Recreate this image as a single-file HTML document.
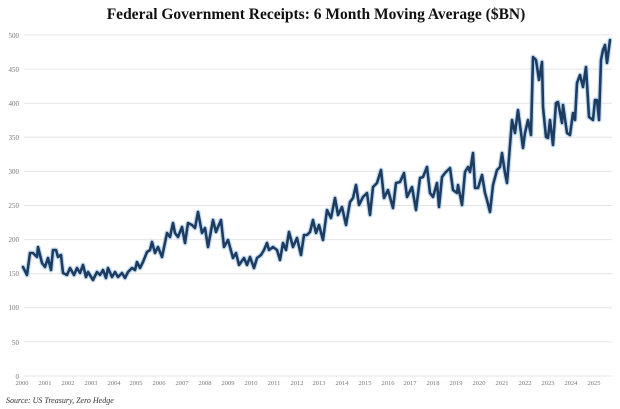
<!DOCTYPE html>
<html><head><meta charset="utf-8"><style>
html,body{margin:0;padding:0;background:#fff;}
svg{display:block;}
</style></head><body>
<svg width="620" height="409" viewBox="0 0 620 409" xmlns="http://www.w3.org/2000/svg">
<rect width="620" height="409" fill="#fff"/>
<text x="316" y="19" text-anchor="middle" font-family="Liberation Serif, serif" font-weight="bold" font-size="15.5" fill="#111">Federal Government Receipts: 6 Month Moving Average ($BN)</text>
<g stroke="#e4e4e4" stroke-width="1">
<line x1="24" x2="612" y1="35" y2="35"/><line x1="24" x2="612" y1="69.1" y2="69.1"/>
<line x1="24" x2="612" y1="103.2" y2="103.2"/><line x1="24" x2="612" y1="137.3" y2="137.3"/>
<line x1="24" x2="612" y1="171.4" y2="171.4"/><line x1="24" x2="612" y1="205.5" y2="205.5"/>
<line x1="24" x2="612" y1="239.6" y2="239.6"/><line x1="24" x2="612" y1="273.7" y2="273.7"/>
<line x1="24" x2="612" y1="307.8" y2="307.8"/><line x1="24" x2="612" y1="341.9" y2="341.9"/>
<line x1="24" x2="612" y1="376" y2="376"/>
</g>
<g font-family="Liberation Serif, serif" font-size="7" fill="#777" text-anchor="end">
<text x="19" y="38">500</text><text x="19" y="72">450</text><text x="19" y="106">400</text>
<text x="19" y="140">350</text><text x="19" y="174">300</text><text x="19" y="208">250</text>
<text x="19" y="242">200</text><text x="19" y="276">150</text><text x="19" y="310">100</text>
<text x="19" y="345">50</text><text x="19" y="379">0</text>
</g>
<g font-family="Liberation Serif, serif" font-size="6.5" fill="#777" text-anchor="middle">
<text x="22" y="385">2000</text><text x="45" y="385">2001</text><text x="68" y="385">2002</text><text x="91" y="385">2003</text><text x="114" y="385">2004</text><text x="136" y="385">2005</text><text x="159" y="385">2006</text><text x="182" y="385">2007</text><text x="205" y="385">2008</text><text x="228" y="385">2009</text><text x="251" y="385">2010</text><text x="274" y="385">2011</text><text x="297" y="385">2012</text><text x="319" y="385">2013</text><text x="342" y="385">2014</text><text x="365" y="385">2015</text><text x="388" y="385">2016</text><text x="410" y="385">2017</text><text x="433" y="385">2018</text><text x="456" y="385">2019</text><text x="479" y="385">2020</text><text x="502" y="385">2021</text><text x="525" y="385">2022</text><text x="548" y="385">2023</text><text x="571" y="385">2024</text><text x="594" y="385">2025</text>
</g>
<text x="6" y="403" font-family="Liberation Serif, serif" font-style="italic" font-size="8" fill="#333">Source: US Treasury, Zero Hedge</text>
<g fill="none" stroke-linejoin="round" stroke-linecap="round">
<polyline id="p" stroke="#9fc3e4" stroke-width="5" opacity="0.6" points="23,267 27,275 30,253 33,253 37,257 38,247 42,263 45,267 48,258 51,270 53,250 56,250 58,257 61,255 63,273 67,275 70,268 74,275 77,268 80,273 83,265 86,277 88,272 93,280 97,272 100,275 103,270 106,278 108,268 112,277 115,272 118,277 122,273 125,278 128,272 132,268 135,270 137,262 140,268 143,262 147,252 150,250 152,242 155,253 158,247 162,257 167,233 170,237 173,223 175,233 178,237 182,227 185,243 188,223 192,225 195,228 198,212 202,233 205,228 208,247 213,220 216,232 218,227 221,220 224,247 228,240 233,258 236,253 239,265 244,258 247,265 250,257 254,268 257,258 261,255 264,250 267,243 269,250 273,247 277,250 280,260 283,243 286,250 289,232 293,247 297,238 301,255 304,235 307,235 310,232 313,220 316,233 319,225 323,240 327,210 331,218 335,198 338,215 342,207 346,225 350,202 353,198 356,185 359,205 363,197 367,193 370,215 373,187 377,183 381,170 384,198 388,190 393,208 396,183 400,182 404,173 407,197 412,187 416,210 420,178 423,177 427,167 430,193 433,197 437,183 439,207 442,177 445,173 450,168 453,190 457,193 458,185 462,205 465,172 468,167 470,172 473,153 475,188 478,188 482,175 485,193 487,200 490,212 493,185 497,170 500,167 502,153 505,173 507,183 512,120 515,133 518,110 523,148 525,133 528,120 531,135 533,57 536,60 539,80 542,62 543,107 546,137 548,138 550,120 553,145 556,103 558,102 562,123 563,105 567,133 570,135 573,113 575,120 577,83 580,75 583,87 586,67 589,117 593,120 595,100 597,100 599,120 601,60 603,50 605,45 607,63 610,40"/>
<polyline stroke="#1d3c62" stroke-width="2.6" points="23,267 27,275 30,253 33,253 37,257 38,247 42,263 45,267 48,258 51,270 53,250 56,250 58,257 61,255 63,273 67,275 70,268 74,275 77,268 80,273 83,265 86,277 88,272 93,280 97,272 100,275 103,270 106,278 108,268 112,277 115,272 118,277 122,273 125,278 128,272 132,268 135,270 137,262 140,268 143,262 147,252 150,250 152,242 155,253 158,247 162,257 167,233 170,237 173,223 175,233 178,237 182,227 185,243 188,223 192,225 195,228 198,212 202,233 205,228 208,247 213,220 216,232 218,227 221,220 224,247 228,240 233,258 236,253 239,265 244,258 247,265 250,257 254,268 257,258 261,255 264,250 267,243 269,250 273,247 277,250 280,260 283,243 286,250 289,232 293,247 297,238 301,255 304,235 307,235 310,232 313,220 316,233 319,225 323,240 327,210 331,218 335,198 338,215 342,207 346,225 350,202 353,198 356,185 359,205 363,197 367,193 370,215 373,187 377,183 381,170 384,198 388,190 393,208 396,183 400,182 404,173 407,197 412,187 416,210 420,178 423,177 427,167 430,193 433,197 437,183 439,207 442,177 445,173 450,168 453,190 457,193 458,185 462,205 465,172 468,167 470,172 473,153 475,188 478,188 482,175 485,193 487,200 490,212 493,185 497,170 500,167 502,153 505,173 507,183 512,120 515,133 518,110 523,148 525,133 528,120 531,135 533,57 536,60 539,80 542,62 543,107 546,137 548,138 550,120 553,145 556,103 558,102 562,123 563,105 567,133 570,135 573,113 575,120 577,83 580,75 583,87 586,67 589,117 593,120 595,100 597,100 599,120 601,60 603,50 605,45 607,63 610,40"/>
</g>
</svg>
</body></html>
